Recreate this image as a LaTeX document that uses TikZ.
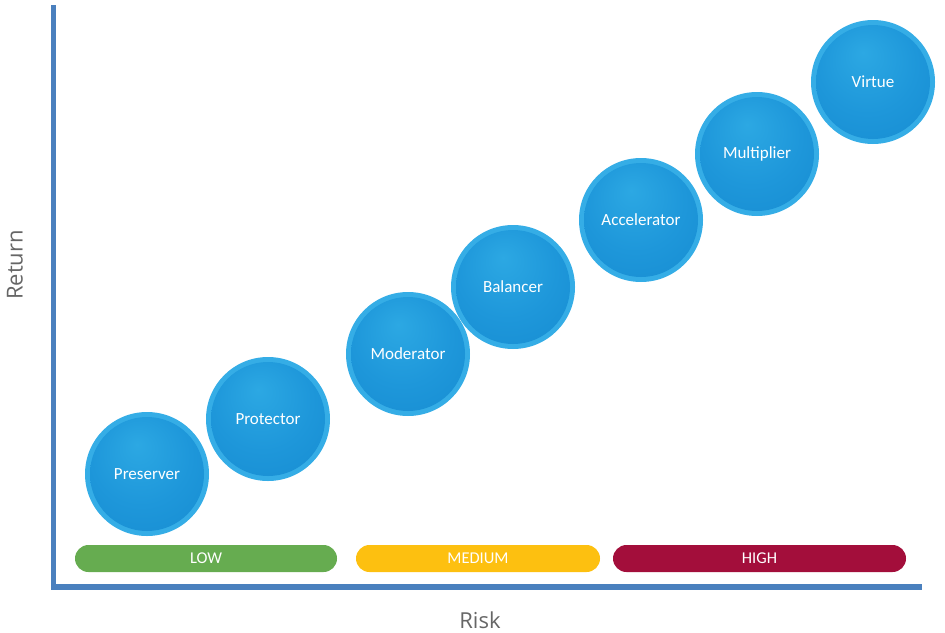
\documentclass[tikz,border=0pt]{standalone}
\usepackage{fontspec}
\setmainfont{Carlito}
\newfontfamily\axisfont{Open Sans}
\definecolor{axisblue}{HTML}{4A80BE}
\definecolor{rimblue}{HTML}{35ADE6}
\definecolor{ballhi}{HTML}{2CA8E3}
\definecolor{ballmid}{HTML}{1E97DA}
\definecolor{balllo}{HTML}{0A7AC3}
\definecolor{lowgreen}{HTML}{66AC50}
\definecolor{medyellow}{HTML}{FDC010}
\definecolor{highred}{HTML}{A30E3B}
\definecolor{labelgray}{HTML}{666666}
\pgfdeclareradialshading{ballshade}{\pgfpoint{-4bp}{12bp}}{%
  color(0bp)=(ballhi); color(20bp)=(ballmid); color(36bp)=(ballmid!65!balllo); color(50bp)=(balllo)}
\tikzset{
  ball/.style={circle, minimum size=124pt, inner sep=0pt, fill=rimblue,
    text=white, font=\fontsize{17}{20}\selectfont,
    path picture={\shade[shading=ballshade]
      (path picture bounding box.center) circle (57pt);}},
  band/.style={rounded corners=13.5pt, minimum height=27pt, inner sep=0pt,
    text=white, font=\fontsize{16.5}{19}\selectfont},
  axis/.style={draw=axisblue, line width=5.5pt},
  axislabel/.style={text=labelgray, font=\axisfont\fontsize{22}{26}\selectfont}
}
\begin{document}
\begin{tikzpicture}[x=1pt, y=-1pt]
  \useasboundingbox (0,0) rectangle (945,632);
  % axes
  \coordinate (top) at (53.5,5);
  \coordinate (origin) at (53.5,587);
  \coordinate (right) at (922,587);
  \draw[axis] (top) -- (origin) -- (right);
  \node[axislabel, rotate=90] (ret) at (15,265) {Return};
  \node[axislabel] (risk) at (480,620) {Risk};
  % risk bands
  \node[band, fill=lowgreen, minimum width=262pt] (low) at (206,558.5) {LOW};
  \node[band, fill=medyellow, minimum width=244pt] (med) at (478,558.5) {MEDIUM};
  \node[band, fill=highred, minimum width=293pt] (high) at (759.5,558.5) {HIGH};
  % portfolio profiles
  \node[ball] (preserver) at (147,474) {Preserver};
  \node[ball] (protector) at (268,419) {Protector};
  \node[ball] (moderator) at (408,354) {Moderator};
  \node[ball] (balancer) at (513,287) {Balancer};
  \node[ball] (accelerator) at (641,220) {Accelerator};
  \node[ball] (multiplier) at (757,154) {Multiplier};
  \node[ball] (virtue) at (873,82) {Virtue};
\end{tikzpicture}
\end{document}
